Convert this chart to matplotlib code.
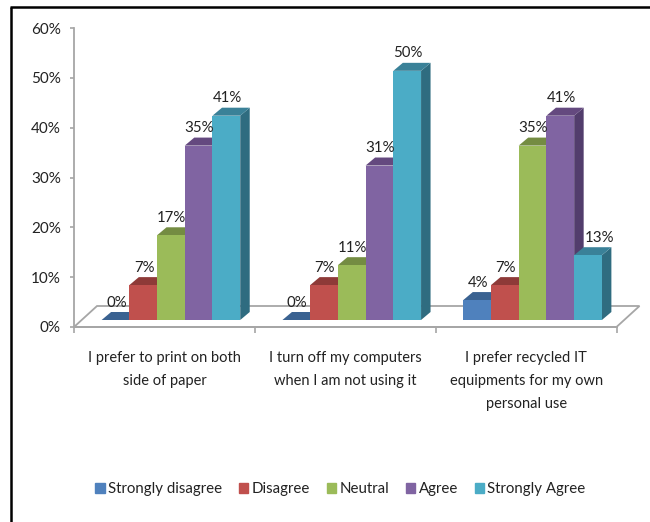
import matplotlib
matplotlib.use("Agg")
import matplotlib.pyplot as plt
from matplotlib.patches import Polygon, Patch
from matplotlib.lines import Line2D

plt.rcParams['font.family'] = ['Lato', 'DejaVu Sans']

categories = ["I prefer to print on both\nside of paper",
              "I turn off my computers\nwhen I am not using it",
              "I prefer recycled IT\nequipments for my own\npersonal use"]
series = ["Strongly disagree", "Disagree", "Neutral", "Agree", "Strongly Agree"]
strongly_disagree = [0, 0, 4]
disagree = [7, 7, 7]
neutral = [17, 11, 35]
agree = [35, 31, 41]
strongly_agree = [41, 50, 13]
values = [strongly_disagree, disagree, neutral, agree, strongly_agree]
yticks = [0, 10, 20, 30, 40, 50, 60]

front = ["#4F81BD", "#C0504D", "#9BBB59", "#8064A2", "#4BACC6"]
top = ["#3A6291", "#8E3A38", "#748C42", "#64497F", "#3A8198"]
side = ["#2F4F75", "#7A302E", "#5E7235", "#523D6C", "#2F6C80"]
TXT = "#222222"
GRAY = "#A6A6A6"

W, H = 650, 522
fig = plt.figure(figsize=(W/100, H/100), dpi=100, facecolor="white")
ax = fig.add_axes([74/W, (H-327)/H, (616.5-74)/W, (327-28)/H])
ax.set_xlim(0, 3)
ax.set_ylim(0, 60)
ax.patch.set_alpha(0)

for s in ("top", "right"):
    ax.spines[s].set_visible(False)
for s in ("left", "bottom"):
    ax.spines[s].set_color(GRAY)
    ax.spines[s].set_linewidth(1.3)

ax.set_yticks(yticks, [f"{v}%" for v in yticks])
ax.tick_params(axis="y", length=3, color=GRAY, width=1.2, labelsize=11,
               labelcolor=TXT, pad=6.5)
ax.set_xticks([0, 1, 2, 3], [])
ax.tick_params(axis="x", length=4.5, color=GRAY, width=1.2)
ax.set_xticks([0.5, 1.5, 2.5], categories, minor=True)
ax.tick_params(axis="x", which="minor", length=0, labelsize=10.5,
               labelcolor=TXT, pad=17)
for t in ax.get_xticklabels(minor=True):
    t.set_linespacing(1.82)


def px(x, y, dx=0, dy=0):
    a, b = ax.transData.transform((x, y))
    return (a + dx, b + dy)


def poly(points, color, z):
    ax.add_patch(Polygon(points, closed=True, facecolor=color, edgecolor=color,
                         linewidth=0, transform=None, zorder=z, clip_on=False))


# floor outline
FX, FY = 23, 21
ax.add_patch(Polygon([px(0, 0), px(0, 0, FX, FY), px(3, 0, FX, FY), px(3, 0)],
                     closed=True, facecolor="white", edgecolor=GRAY,
                     linewidth=1.3, transform=None, zorder=1, clip_on=False))

# bars
BW = 0.1533
OX, OY = 6.5, 7
DX, DY = 9.5, 8
LABEL_NUDGE = {13: 8}  # the 13% label sits off to the right in the reference
z = 3
for g in range(len(categories)):
    for i in range(len(series)):
        v = values[i][g]
        x0 = g + 0.5 + (i - 2.5) * BW
        x1 = x0 + BW
        poly([px(x1, 0, OX, OY), px(x1, 0, OX+DX, OY+DY),
              px(x1, v, OX+DX, OY+DY), px(x1, v, OX, OY)], side[i], z)
        poly([px(x0, v, OX, OY), px(x0, v, OX+DX, OY+DY),
              px(x1, v, OX+DX, OY+DY), px(x1, v, OX, OY)], top[i], z+0.1)
        poly([px(x0, 0, OX, OY), px(x1, 0, OX, OY),
              px(x1, v, OX, OY), px(x0, v, OX, OY)], front[i], z+0.2)
        z += 1
        ax.annotate(f"{v}%", xy=(x0 + BW/2, v),
                    xytext=(5.3 + LABEL_NUDGE.get(v, 0), 12.5),
                    textcoords="offset points", ha="center", va="bottom",
                    fontsize=10.8, color=TXT, zorder=200, annotation_clip=False)

handles = [Patch(facecolor=c, edgecolor=c, label=s) for c, s in zip(front, series)]
fig.legend(handles=handles, loc="center", bbox_to_anchor=(340.5/W, (H-489)/H),
           ncol=5, frameon=False, fontsize=10.8, labelcolor=TXT,
           handlelength=0.62, handleheight=0.62, handletextpad=0.22,
           columnspacing=1.12, borderpad=0)

# image border (top and left only)
fig.add_artist(Line2D([10.5/W, 10.5/W], [0, (H-7)/H], color="black", lw=1.8,
                      transform=fig.transFigure, solid_capstyle="butt"))
fig.add_artist(Line2D([9.5/W, 1], [(H-7)/H, (H-7)/H], color="black", lw=1.8,
                      transform=fig.transFigure, solid_capstyle="butt"))

fig.savefig("out.png", dpi=100, facecolor="white")
